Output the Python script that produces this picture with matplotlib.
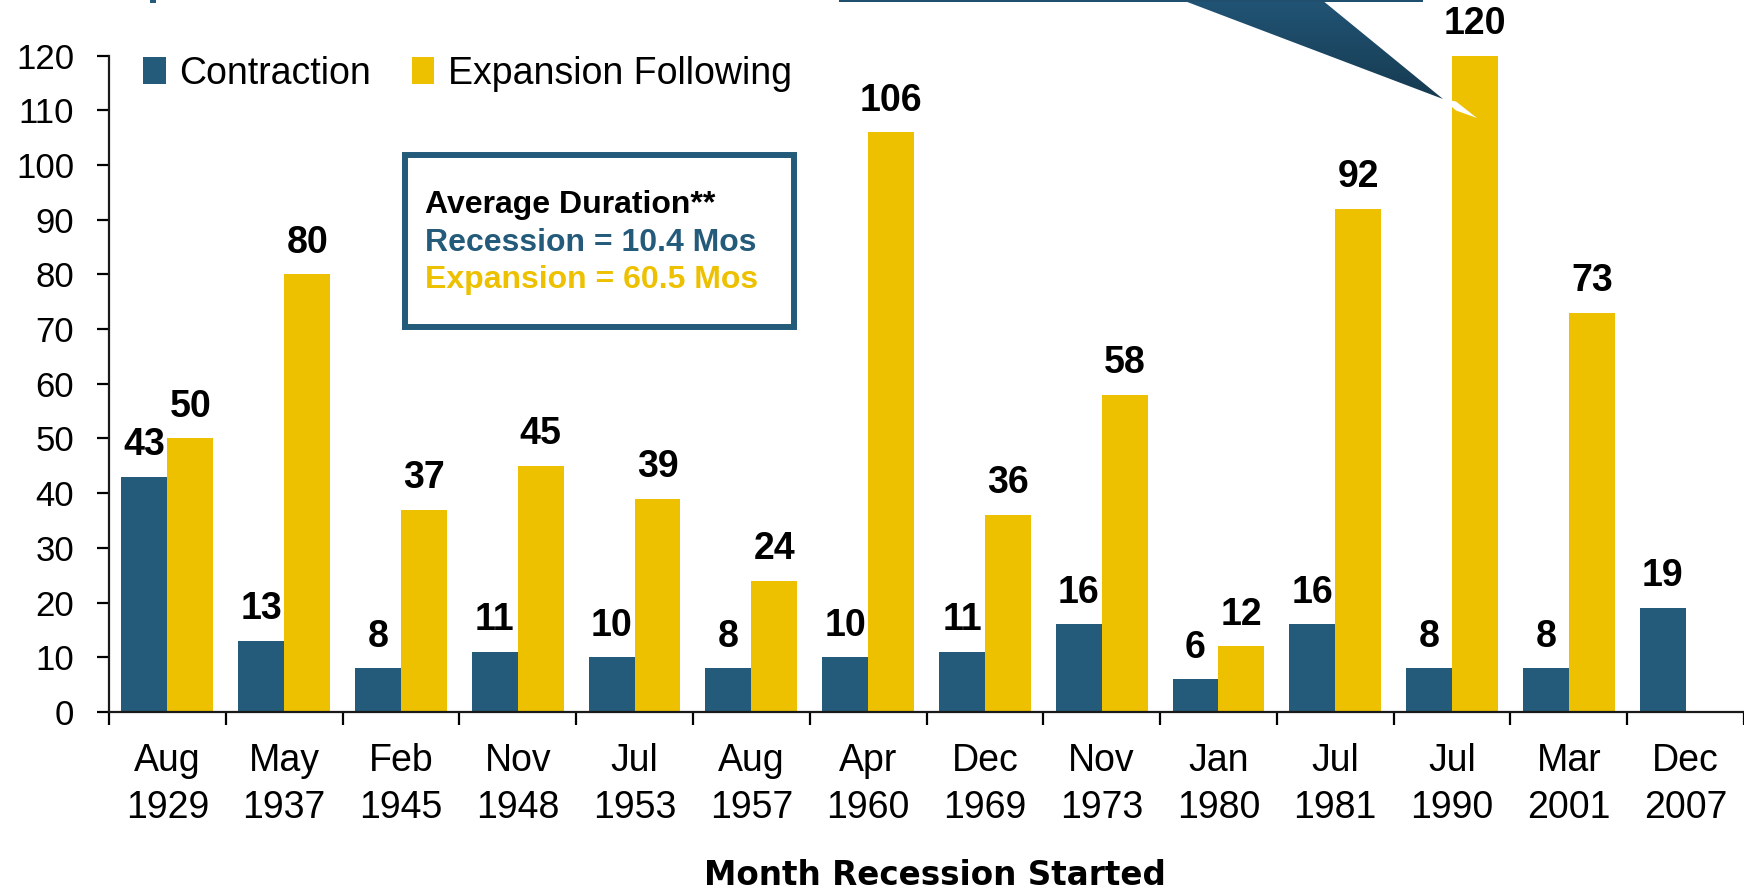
import numpy as np
import matplotlib.pyplot as plt
from matplotlib.patches import Polygon, Rectangle
from matplotlib.colors import LinearSegmentedColormap

plt.rcParams['font.family'] = ['Liberation Sans', 'DejaVu Sans']

# data
months = ["Aug\n1929", "May\n1937", "Feb\n1945", "Nov\n1948", "Jul\n1953", "Aug\n1957", "Apr\n1960",
          "Dec\n1969", "Nov\n1973", "Jan\n1980", "Jul\n1981", "Jul\n1990", "Mar\n2001", "Dec\n2007"]
contraction = [43, 13, 8, 11, 10, 8, 10, 11, 16, 6, 16, 8, 8, 19]
expansion = [50, 80, 37, 45, 39, 24, 106, 36, 58, 12, 92, 120, 73, np.nan]
yticks = list(range(0, 121, 10))

blue = '#245B7A'
yellow = '#EDC100'

fig = plt.figure(figsize=(17.44, 8.91), dpi=100)
ax = fig.add_axes([0.0625, 0.201, 0.9375, 0.7367])

x = np.arange(len(months))
w = 0.393
b1 = ax.bar(x - w/2, contraction, w, color=blue, label="Contraction", zorder=2)
b2 = ax.bar(x + w/2, expansion, w, color=yellow, label="Expansion Following", zorder=2)

for bars, vals in [(b1, contraction), (b2, expansion)]:
    for r, v in zip(bars, vals):
        if np.isnan(v):
            continue
        ax.annotate(f"{v:g}", (r.get_x() + r.get_width()/2, v), xytext=(0, 15.5),
                    textcoords='offset points', ha='center', va='baseline',
                    fontsize=27, fontweight='bold')

ax.set_xlim(-0.5, 13.5)
ax.set_ylim(0, 120)
ax.set_yticks(yticks)
ax.set_xticks(np.arange(-0.5, 14, 1))
ax.set_xticklabels([])
ax.set_xticks(x, minor=True)
ax.set_xticklabels(months, minor=True, linespacing=1.38)
ax.tick_params(axis='x', which='major', length=9, width=1.6, direction='out')
ax.tick_params(axis='x', which='minor', length=0, pad=22.5, labelsize=27)
ax.tick_params(axis='y', length=9, width=1.6, direction='out', pad=16, labelsize=25)
for s in ['top', 'right']:
    ax.spines[s].set_visible(False)
for s in ['left', 'bottom']:
    ax.spines[s].set_linewidth(1.6)
    ax.spines[s].set_color('#1a1a1a')

ax.legend(loc='upper left', bbox_to_anchor=(0.021, 1.0), ncol=2, frameon=False, fontsize=27,
          handlelength=0.6, handleheight=0.7, handletextpad=0.35, columnspacing=1.1,
          borderaxespad=0, borderpad=0)

fig.text(0.536, 1 - 885/891, "Month Recession Started", ha='center', va='baseline',
         fontsize=23.5, fontweight='bold', family='DejaVu Sans')

# overlay in pixel coords for the box and callout
ov = fig.add_axes([0, 0, 1, 1])
ov.set_xlim(0, 1744)
ov.set_ylim(891, 0)
ov.axis('off')

ov.add_patch(Rectangle((405, 155), 389, 172, facecolor='white', edgecolor=blue, linewidth=4.3))
ov.text(425, 213, "Average Duration**", fontsize=23, fontweight='bold', color='black', va='baseline')
ov.text(425, 251, "Recession = 10.4 Mos", fontsize=23, fontweight='bold', color=blue, va='baseline')
ov.text(425, 288, "Expansion = 60.5 Mos", fontsize=23, fontweight='bold', color=yellow, va='baseline')

# callout wedge from box above the chart
ov.add_patch(Rectangle((839, -2), 584, 4, facecolor='#1F4F6C', edgecolor='none'))
ov.add_patch(Rectangle((150, -2), 6, 5, facecolor=blue, edgecolor='none'))
wedge = Polygon([(1182, 0), (1322, 0), (1443, 99)], closed=True, facecolor='none', edgecolor='none')
ov.add_patch(wedge)
cmap = LinearSegmentedColormap.from_list('w', ['#215475', '#163A50'])
grad = np.linspace(0, 1, 100).reshape(-1, 1)
im = ov.imshow(grad, cmap=cmap, extent=[1180, 1445, 100, 0], aspect='auto')
im.set_clip_path(wedge)
ov.add_patch(Polygon([(1443, 99), (1456, 101.5), (1477, 118), (1456, 110.5)], closed=True,
                     facecolor='white', edgecolor='none'))
ov.set_xlim(0, 1744)
ov.set_ylim(891, 0)

fig.savefig('out.png', dpi=100)
